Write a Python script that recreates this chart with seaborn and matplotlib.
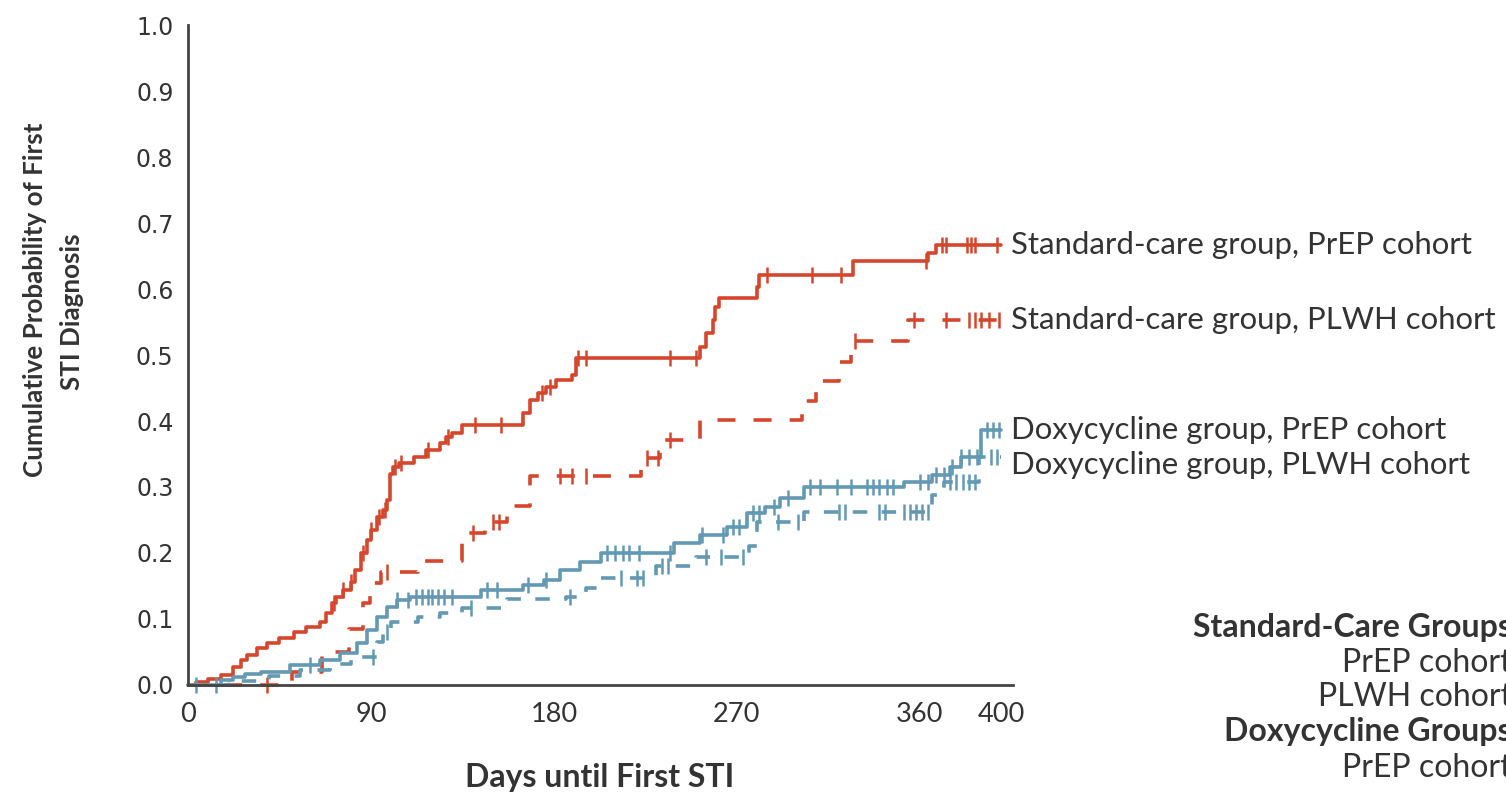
import numpy as np
import pandas as pd
import matplotlib
matplotlib.use("Agg")
import matplotlib.pyplot as plt
import seaborn as sns

# ---------------- data ----------------
# Standard-care group, PrEP cohort (solid red)
sc_prep_t = [0, 4, 10, 16, 22, 26, 29, 34, 39, 45, 52, 58, 65, 68, 71, 73, 76, 80, 82, 85, 88, 90, 93, 96, 98,
             99.5, 101, 104, 111, 117, 124, 127, 130, 135, 165, 168, 172, 176, 181, 189, 191, 252, 255, 258,
             259, 261, 280, 281, 327, 364, 368, 400]
sc_prep_p = [0, 0.004, 0.009, 0.015, 0.027, 0.038, 0.045, 0.056, 0.064, 0.071, 0.080, 0.088, 0.095, 0.109,
             0.124, 0.134, 0.144, 0.156, 0.174, 0.20, 0.22, 0.235, 0.255, 0.265, 0.28, 0.32, 0.33, 0.336,
             0.345, 0.356, 0.367, 0.376, 0.382, 0.394, 0.412, 0.432, 0.442, 0.452, 0.462, 0.47, 0.495,
             0.512, 0.533, 0.553, 0.573, 0.586, 0.603, 0.621, 0.642, 0.654, 0.667, 0.667]
sc_prep_cens = [72, 76, 80, 86, 90, 94, 97, 102, 105, 118, 128, 141, 154, 174, 178, 192, 196, 237, 250, 285,
                307, 321, 363, 371, 373, 383, 385, 387, 398]

# Standard-care group, PLWH cohort (dashed red)
sc_plwh_t = [0, 51, 66, 79, 86, 89.5, 95, 113, 135, 146, 157, 168, 223, 232, 252, 302, 309, 320, 326, 354, 400]
sc_plwh_p = [0, 0.02, 0.05, 0.085, 0.125, 0.155, 0.171, 0.188, 0.23, 0.247, 0.271, 0.317, 0.344, 0.371,
             0.401, 0.43, 0.46, 0.49, 0.521, 0.553, 0.553]
sc_plwh_cens = [39, 98, 140, 150, 153, 183, 189, 196, 226, 231, 237, 328, 357, 373, 384, 387, 390, 394, 399]

# Doxycycline group, PrEP cohort (solid teal)
dx_prep_t = [0, 16, 22, 28, 36, 50, 65, 75, 83, 88, 93, 98, 103, 109, 144, 165, 175, 183, 193, 203, 239,
             252, 265, 275, 284, 291, 303, 352, 366, 375, 380, 390, 400]
dx_prep_p = [0, 0.008, 0.012, 0.016, 0.02, 0.03, 0.038, 0.048, 0.064, 0.083, 0.103, 0.118, 0.129, 0.134,
             0.144, 0.152, 0.159, 0.174, 0.186, 0.20, 0.215, 0.227, 0.24, 0.26, 0.27, 0.283, 0.30, 0.307,
             0.318, 0.33, 0.345, 0.386, 0.386]
dx_prep_cens = [4, 14, 60, 103, 108, 112, 115, 118, 120, 123, 126, 130, 147, 152, 167, 176, 206, 210, 214,
                217, 222, 237, 253, 263, 268, 271, 278, 281, 288, 295, 306, 311, 319, 326, 334, 337, 340,
                344, 347, 360, 364, 368, 372, 376, 380, 384, 388, 393, 396, 399]

# Doxycycline group, PLWH cohort (dashed teal)
dx_plwh_t = [0, 20, 40, 55, 70, 80, 93, 96, 100, 113, 124, 135, 157, 186, 196, 203, 230, 250, 276, 280,
             303, 366, 372, 389, 400]
dx_plwh_p = [0, 0.006, 0.013, 0.022, 0.032, 0.042, 0.065, 0.08, 0.095, 0.103, 0.109, 0.116, 0.131, 0.134,
             0.147, 0.162, 0.18, 0.194, 0.21, 0.247, 0.262, 0.288, 0.307, 0.345, 0.345]
dx_plwh_cens = [91, 98, 139, 188, 213, 221, 224, 233, 236, 255, 262, 273, 290, 300, 320, 323, 340, 343,
                352, 355, 358, 361, 364, 375, 378, 381, 384, 387, 395, 398]

x_ticks = [0, 90, 180, 270, 360, 400]
y_ticks = [0.0, 0.1, 0.2, 0.3, 0.4, 0.5, 0.6, 0.7, 0.8, 0.9, 1.0]

curve_labels = ["Standard-care group, PrEP cohort", "Standard-care group, PLWH cohort",
                "Doxycycline group, PrEP cohort", "Doxycycline group, PLWH cohort"]
curve_label_y = [0.667, 0.553, 0.386, 0.333]

legend_lines = ["Standard-Care Groups", "PrEP cohort", "PLWH cohort", "Doxycycline Groups", "PrEP cohort"]
legend_bold = [True, False, False, True, False]

# ---------------- style ----------------
sns.set_theme(style="white")
plt.rcParams['font.family'] = ['Lato', 'DejaVu Sans']

RED = "#d4472c"
TEAL = "#6399b2"
TXT = "#333333"

W, H = 1506, 798
fig = plt.figure(figsize=(W / 100, H / 100), dpi=100)
ax = fig.add_axes([188 / W, 113 / H, 406 * 2.033 / W, 660 / H])


def step_value(times, probs, t):
    i = np.searchsorted(np.asarray(times), t, side="right") - 1
    return probs[max(i, 0)]


series = [
    (sc_prep_t, sc_prep_p, sc_prep_cens, RED, "-"),
    (sc_plwh_t, sc_plwh_p, sc_plwh_cens, RED, (0, (5, 5))),
    (dx_prep_t, dx_prep_p, dx_prep_cens, TEAL, "-"),
    (dx_plwh_t, dx_plwh_p, dx_plwh_cens, TEAL, (0, (4, 4))),
]

for t, p, cens, col, ls in series:
    df = pd.DataFrame({"t": t, "p": p})
    sns.lineplot(data=df, x="t", y="p", ax=ax, color=col, linewidth=2.6, linestyle=ls,
                 drawstyle="steps-post", estimator=None, sort=False, clip_on=False)
    cdf = pd.DataFrame({"t": cens, "p": [step_value(t, p, c) for c in cens]})
    sns.lineplot(data=cdf, x="t", y="p", ax=ax, color=col, linestyle="none", marker="|",
                 markersize=11, markeredgewidth=1.8, markeredgecolor=col, markerfacecolor=col,
                 estimator=None, sort=False, clip_on=False)

ax.set_xlim(0, 406)
ax.set_ylim(0, 1.0)
ax.set_xticks(x_ticks)
ax.set_yticks(y_ticks)
ax.set_xticklabels([str(v) for v in x_ticks], fontsize=19.5, color=TXT, family="Lato")
ax.set_yticklabels([f"{v:.1f}" for v in y_ticks], fontsize=17, color=TXT, family="DejaVu Sans")
ax.tick_params(axis="both", which="both", direction="out", length=8.5, width=1.6, color="#444444")
ax.tick_params(axis="x", pad=4)
ax.tick_params(axis="y", pad=2)
for s in ["top", "right"]:
    ax.spines[s].set_visible(False)
for s in ["left", "bottom"]:
    ax.spines[s].set_color("#444444")
    ax.spines[s].set_linewidth(2.0)
ax.set_xlabel("")
ax.set_ylabel("")
ax.set_facecolor("white")
ax.patch.set_alpha(0)

# curve labels
for lab, yv in zip(curve_labels, curve_label_y):
    ax.text(405, yv, lab, fontsize=22.4, color=TXT, ha="left", va="center", clip_on=False)

# axis titles
fig.text(35 / W, 1 - 300 / H, "Cumulative Probability of First", rotation=90, ha="center", va="center",
         fontsize=18.7, fontweight="bold", color=TXT)
fig.text(72 / W, 1 - 312 / H, "STI Diagnosis", rotation=90, ha="center", va="center",
         fontsize=18.7, fontweight="bold", color=TXT)
fig.text(600 / W, 1 - 778 / H, "Days until First STI", ha="center", va="center",
         fontsize=23, fontweight="bold", color=TXT)

# legend block (cut at the right edge as in the reference)
leg_y = [627, 663, 697, 732, 768]
for txt, b, yy in zip(legend_lines, legend_bold, leg_y):
    fig.text(1512 / W, 1 - yy / H, txt, ha="right", va="center", fontsize=23,
             fontweight="bold" if b else "normal", color=TXT)

fig.savefig("out.png", dpi=100, facecolor="white")
